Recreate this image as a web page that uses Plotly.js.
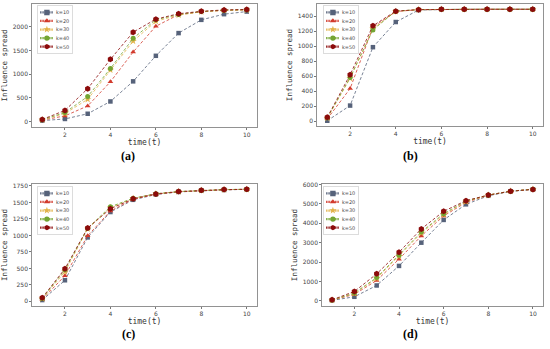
<!DOCTYPE html>
<html><head><meta charset="utf-8">
<script src="https://cdn.plot.ly/plotly-3.0.1.min.js"></script>
<style>html,body{margin:0;padding:0;background:#fff}#c{width:550px;height:349px}</style>
</head><body><div id="c"></div>
<script>
const t = [1,2,3,4,5,6,7,8,9,10];
const seriesNames = ["k=10","k=20","k=30","k=40","k=50"];
// panel (a)
const a_k10 = [20,55,165,425,850,1390,1870,2150,2270,2325];
const a_k20 = [30,120,330,840,1470,2015,2260,2320,2350,2360];
const a_k30 = [35,170,470,1090,1700,2120,2250,2320,2350,2360];
const a_k40 = [40,190,530,1120,1760,2150,2265,2325,2355,2365];
const a_k50 = [45,235,695,1315,1890,2165,2280,2330,2360,2370];
// panel (b)
const b_k10 = [5,207,985,1320,1480,1490,1490,1490,1490,1490];
const b_k20 = [30,433,1250,1460,1485,1490,1490,1490,1490,1490];
const b_k30 = [40,570,1230,1460,1485,1490,1490,1490,1490,1490];
const b_k40 = [45,580,1215,1465,1485,1490,1490,1490,1490,1490];
const b_k50 = [50,618,1270,1465,1485,1490,1490,1490,1490,1490];
// panel (c)
const c_k10 = [20,320,970,1355,1540,1620,1660,1680,1690,1700];
const c_k20 = [30,390,995,1370,1550,1625,1662,1682,1692,1700];
const c_k30 = [40,450,1100,1420,1560,1630,1664,1684,1694,1700];
const c_k40 = [45,480,1110,1435,1565,1632,1665,1685,1695,1700];
const c_k50 = [55,495,1113,1405,1555,1630,1665,1685,1695,1700];
// panel (d)
const d_k10 = [20,205,790,1800,3000,4175,4980,5420,5650,5750];
const d_k20 = [30,330,1050,2150,3350,4380,5080,5450,5660,5760];
const d_k30 = [35,380,1150,2300,3500,4450,5120,5455,5660,5760];
const d_k40 = [40,400,1200,2350,3550,4500,5150,5460,5660,5760];
const d_k50 = [50,480,1390,2510,3710,4620,5170,5460,5660,5750];

const panels = [
  {ys:[a_k10,a_k20,a_k30,a_k40,a_k50], xa:"x", ya:"y", leg:"legend"},
  {ys:[b_k10,b_k20,b_k30,b_k40,b_k50], xa:"x2", ya:"y2", leg:"legend2"},
  {ys:[c_k10,c_k20,c_k30,c_k40,c_k50], xa:"x3", ya:"y3", leg:"legend3"},
  {ys:[d_k10,d_k20,d_k30,d_k40,d_k50], xa:"x4", ya:"y4", leg:"legend4"}
];
const colors = ["#56627a","#d23a2c","#e2b34a","#74a532","#8c0b0b"];
const symbols = ["square","triangle-up","star","circle","hexagon"];
const msizes = [4.5,5,5.5,5,6];

const traces = [];
panels.forEach(p => {
  p.ys.forEach((y,i) => {
    traces.push({
      x:t, y:y, xaxis:p.xa, yaxis:p.ya, legend:p.leg,
      name:seriesNames[i], type:"scatter", mode:"lines+markers",
      line:{color:colors[i], width:0.8, dash:"3px,2px"},
      marker:{color:colors[i], symbol:symbols[i], size:msizes[i], line:{width:0}}
    });
  });
});

const W=550,H=349;
function dx(a,b){return [a/W,b/W];}
function dy(top,bot){return [1-bot/H,1-top/H];}
const tickfont={family:"DejaVu Sans", size:6, color:"#444"};
function xax(dom,anchor){return {domain:dom, anchor:anchor, range:[0.55,10.45], tickvals:[2,4,6,8,10],
  showgrid:false, zeroline:false, showline:true, mirror:true, linecolor:"#777", linewidth:0.8,
  ticks:"outside", ticklen:2, tickcolor:"#777", tickfont:tickfont,
  title:{text:"time(t)", font:{family:"DejaVu Sans Mono", size:8, color:"#333"}, standoff:2}};}
function yax(dom,anchor,range,tv){return {domain:dom, anchor:anchor, range:range, tickvals:tv,
  showgrid:false, zeroline:false, showline:true, mirror:true, linecolor:"#777", linewidth:0.8,
  ticks:"outside", ticklen:2, tickcolor:"#777", tickfont:tickfont,
  title:{text:"Influence spread", font:{family:"DejaVu Sans Mono", size:7.5, color:"#333"}, standoff:3}};}
function leg(x,y){return {x:x/W, y:1-y/H, xanchor:"left", yanchor:"top", bgcolor:"rgba(255,255,255,0.9)",
  bordercolor:"#d8d8d8", borderwidth:2, font:{family:"DejaVu Sans", size:11, color:"#444"},
  itemwidth:30, itemsizing:"constant", tracegroupgap:0};}

const lblfont={family:"Liberation Serif", size:12, color:"#000"};
const layout = {
  width:W, height:H, margin:{l:0,r:0,t:0,b:0}, paper_bgcolor:"#fff", plot_bgcolor:"#fff",
  showlegend:true,
  xaxis:xax(dx(32,257),"y"), yaxis:yax(dy(4,127),"x",[-115,2485],[0,500,1000,1500,2000]),
  xaxis2:xax(dx(317,543),"y2"), yaxis2:yax(dy(4,126),"x2",[-65,1560],[0,200,400,600,800,1000,1200,1400]),
  xaxis3:xax(dx(32,257),"y3"), yaxis3:yax(dy(184,306),"x3",[-70,1780],[0,250,500,750,1000,1250,1500,1750]),
  xaxis4:xax(dx(322,543),"y4"), yaxis4:yax(dy(184,306),"x4",[-270,6030],[0,1000,2000,3000,4000,5000,6000]),
  legend:leg(37,5), legend2:leg(323,5), legend3:leg(37,186), legend4:leg(323,186),
  annotations:[
    {text:"<b>(a)</b>", x:128/W, y:1-156/H, xref:"paper", yref:"paper", xanchor:"center", yanchor:"middle", showarrow:false, font:lblfont},
    {text:"<b>(b)</b>", x:410/W, y:1-156/H, xref:"paper", yref:"paper", xanchor:"center", yanchor:"middle", showarrow:false, font:lblfont},
    {text:"<b>(c)</b>", x:128/W, y:1-334/H, xref:"paper", yref:"paper", xanchor:"center", yanchor:"middle", showarrow:false, font:lblfont},
    {text:"<b>(d)</b>", x:410/W, y:1-334/H, xref:"paper", yref:"paper", xanchor:"center", yanchor:"middle", showarrow:false, font:lblfont}
  ]
};
Plotly.newPlot("c", traces, layout, {staticPlot:true, displayModeBar:false}).then(gd => {
  const s = 0.45;
  gd.querySelectorAll(".infolayer > g").forEach(g => {
    const cls = g.getAttribute("class") || "";
    if (/^legend\d*$/.test(cls)) {
      const tr = g.getAttribute("transform") || "";
      g.setAttribute("transform", tr + " scale(" + s + ")");
    }
  });
});
</script></body></html>
